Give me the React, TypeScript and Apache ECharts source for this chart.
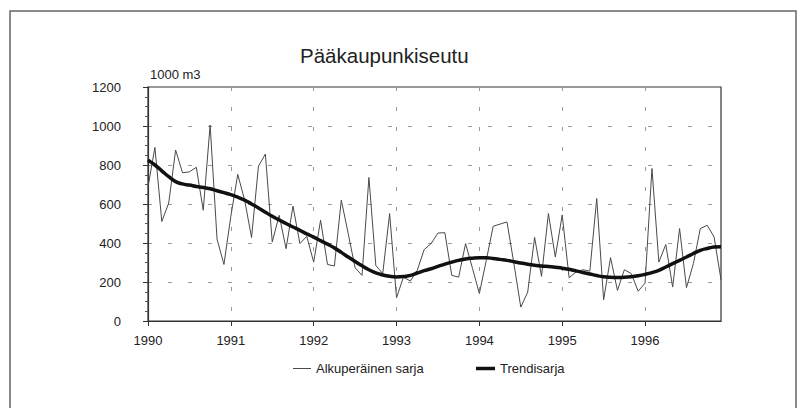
import React, { useEffect, useRef } from "react";
import * as echarts from "echarts";

const years = [1990, 1991, 1992, 1993, 1994, 1995, 1996];
const months = ["01", "02", "03", "04", "05", "06", "07", "08", "09", "10", "11", "12"];
const yTicks = { min: 0, max: 1200, interval: 200 };

const original = [
  688, 890, 510, 605, 877, 760, 765, 788, 568, 1005, 420, 290,
  537, 752, 620, 428, 794, 856, 405, 542, 371, 589, 397, 434,
  302, 517, 290, 282, 620, 448, 273, 234, 736, 285, 243, 551,
  119, 225, 205, 260, 366, 397, 451, 453, 234, 225, 397, 270,
  141, 311, 486, 497, 508, 295, 71, 148, 429, 229, 551, 328,
  544, 222, 251, 263, 256, 628, 109, 325, 157, 263, 243, 153,
  194, 782, 302, 392, 174, 474, 171, 294, 474, 491, 431, 212,
];

const trend = [
  825, 800, 770, 740, 715, 703, 697, 690, 685, 678, 668, 658,
  648, 635, 620, 600, 580, 558, 537, 518, 500, 482, 465, 447,
  430, 412, 394, 375, 352, 328, 305, 283, 263, 247, 236, 229,
  226, 228, 234, 246, 258, 268, 280, 292, 302, 311, 318, 322,
  324, 324, 321, 316, 311, 304, 297, 291, 286, 282, 279, 276,
  271, 265, 257, 249, 241, 233, 227, 224, 223, 224, 227, 232,
  239, 248, 260, 277, 294, 311, 328, 346, 362, 372, 379, 381,
];

const categories: string[] = [];
years.forEach((y) => months.forEach((m) => categories.push(`${y}-${m}`)));

const FONT = "'Liberation Sans', Arial, sans-serif";
const RAW_COLOR = "#4a4a4a";
const TREND_COLOR = "#111";

export default function App() {
  const ref = useRef<HTMLDivElement>(null);
  useEffect(() => {
    if (!ref.current) return;
    const chart = echarts.init(ref.current, undefined, { renderer: "svg" });
    chart.setOption({
      animation: false,
      backgroundColor: "#ffffff",
      textStyle: { fontFamily: FONT },
      title: {
        text: "Pääkaupunkiseutu",
        left: 295,
        top: 40,
        textStyle: { fontSize: 20.5, fontWeight: "normal", color: "#222", fontFamily: FONT },
      },
      graphic: [
        {
          type: "rect",
          shape: { x: 10, y: 11, width: 786, height: 420 },
          style: { fill: "none", stroke: "#666", lineWidth: 1.5 },
          silent: true,
        },
      ],
      legend: [
        {
          left: 288,
          top: 357,
          icon: "rect",
          itemWidth: 18,
          itemHeight: 1,
          textStyle: { fontSize: 13, color: "#222", fontFamily: FONT },
          data: ["Alkuperäinen sarja"],
        },
        {
          left: 471,
          top: 357,
          icon: "rect",
          itemWidth: 19,
          itemHeight: 3.5,
          textStyle: { fontSize: 13, color: "#222", fontFamily: FONT },
          data: ["Trendisarja"],
        },
      ],
      grid: {
        left: 148,
        right: 86,
        top: 87,
        bottom: 87,
        show: true,
        borderColor: "#333",
        borderWidth: 1.2,
        backgroundColor: "transparent",
      },
      xAxis: {
        type: "category",
        data: categories,
        boundaryGap: false,
        axisLine: { lineStyle: { color: "#333", width: 1.2 } },
        axisTick: { interval: 11, length: 5, lineStyle: { color: "#333" } },
        axisLabel: {
          interval: 11,
          margin: 13,
          fontSize: 13,
          color: "#222",
          formatter: (v: string) => v.slice(0, 4),
        },
        splitLine: {
          show: true,
          interval: 11,
          lineStyle: { color: "#999", type: [4, 16], width: 1 },
        },
      },
      yAxis: {
        type: "value",
        min: yTicks.min,
        max: yTicks.max,
        interval: yTicks.interval,
        name: "1000 m3",
        nameLocation: "end",
        nameGap: 6,
        nameTextStyle: { align: "left", fontSize: 13, color: "#222", padding: [0, 0, 0, 2] },
        axisLine: { show: true, lineStyle: { color: "#333", width: 1.2 } },
        axisTick: { show: true, length: 5, lineStyle: { color: "#333" } },
        minorTick: { show: true, splitNumber: 4, length: 3, lineStyle: { color: "#555" } },
        axisLabel: {
          margin: 27,
          fontSize: 13,
          color: "#222",
          formatter: (v: number) => String(v),
        },
        splitLine: { show: true, lineStyle: { color: "#999", type: [4, 16], width: 1 } },
      },
      series: [
        {
          name: "Alkuperäinen sarja",
          type: "line",
          data: original,
          symbol: "none",
          lineStyle: { color: RAW_COLOR, width: 1 },
          itemStyle: { color: RAW_COLOR },
          z: 2,
        },
        {
          name: "Trendisarja",
          type: "line",
          data: trend,
          symbol: "none",
          smooth: true,
          lineStyle: { color: TREND_COLOR, width: 3.5 },
          itemStyle: { color: TREND_COLOR },
          z: 3,
        },
      ],
    });
    return () => chart.dispose();
  }, []);
  return (
    <div
      ref={ref}
      style={{ position: "fixed", left: 0, top: 0, width: 807, height: 408 }}
    />
  );
}
